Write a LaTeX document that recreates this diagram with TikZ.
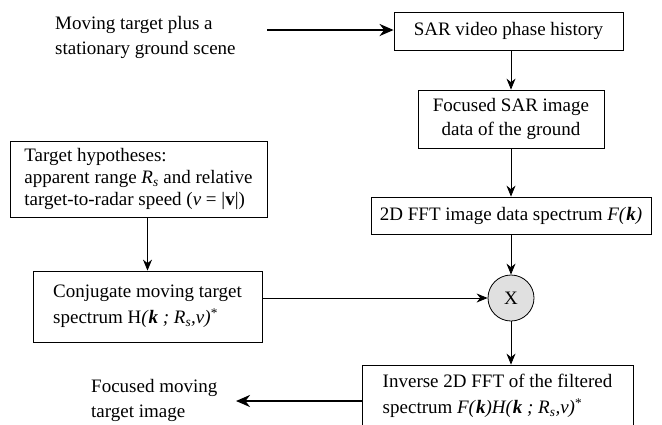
\documentclass[tikz,border=0pt]{standalone}
\usepackage{fontspec}
\setmainfont{Liberation Serif}
\usetikzlibrary{arrows.meta}
\hyphenpenalty=10000
\exhyphenpenalty=10000
\newcommand{\bk}{\textbf{\textit{k}}}
\begin{document}
\begin{tikzpicture}[x=1pt,y=-1pt,
  every node/.style={font=\fontsize{19}{22}\selectfont, inner sep=0pt},
  boxnode/.style={draw, line width=0.8pt, align=center},
  thin arrow/.style={-{Stealth[length=11pt,width=9pt]}, line width=0.8pt},
  thick arrow/.style={-{Stealth[length=14pt,width=12pt]}, line width=2.4pt}]
\useasboundingbox (0,0) rectangle (662,424);
\node[anchor=west, align=left, font=\fontsize{19}{25}\selectfont] (src) at (55,37) {Moving target plus a\\stationary ground scene};
\node[boxnode, minimum width=229pt, minimum height=38pt] (sar) at (508.5,31) {SAR video phase history};
\node[boxnode, minimum width=186pt, minimum height=58pt, font=\fontsize{19}{24}\selectfont] (foc) at (511,119) {Focused SAR image\\data of the ground};
\node[boxnode, minimum width=280pt, minimum height=37pt] (fft) at (511,215.5) {2D FFT image data spectrum \textit{F(}\bk\textit{)}};
\node[draw, circle, line width=0.8pt, fill=black!12, minimum size=46pt] (mul) at (511,298) {X};
\node[boxnode, align=left, minimum width=257pt, minimum height=76pt, font=\fontsize{19}{21.7}\selectfont] (hyp) at (138.5,179)
  {Target hypotheses:\\apparent range \textit{R}\textsubscript{\textit{s}} and relative\\target-to-radar speed (\textit{v} = |\textbf{v}|)};
\node[boxnode, align=left, minimum width=229pt, minimum height=71pt, font=\fontsize{19}{26}\selectfont] (conj) at (147.5,306.5)
  {Conjugate moving target\\spectrum H\textit{(}\bk\textit{ ; R}\textsubscript{\textit{s}}\textit{,v)}\textsuperscript{*}};
\node[boxnode, align=left, minimum width=271pt, minimum height=62pt, font=\fontsize{19}{26}\selectfont] (inv) at (497.5,396)
  {Inverse 2D FFT of the filtered\\spectrum \textit{F(}\bk\textit{)H(}\bk\textit{ ; R}\textsubscript{\textit{s}}\textit{,v)}\textsuperscript{*}};
\node[anchor=west, align=left, font=\fontsize{19}{25}\selectfont] (out) at (91,400) {Focused moving\\target image};
\coordinate (srcend) at (267,30);
\coordinate (outend) at (236,401);
\draw[thick arrow] (srcend) -- (sar.west |- srcend);
\draw[thin arrow] (sar.south -| foc.north) -- (foc.north);
\draw[thin arrow] (foc) -- (fft);
\draw[thin arrow] (fft) -- (mul);
\draw[thin arrow] (hyp.south -| conj) -- (conj);
\draw[thin arrow] (conj.east |- mul.west) -- (mul.west);
\draw[thin arrow] (mul) -- (inv.north -| mul);
\draw[thick arrow] (inv.west |- outend) -- (outend);
\end{tikzpicture}
\end{document}
